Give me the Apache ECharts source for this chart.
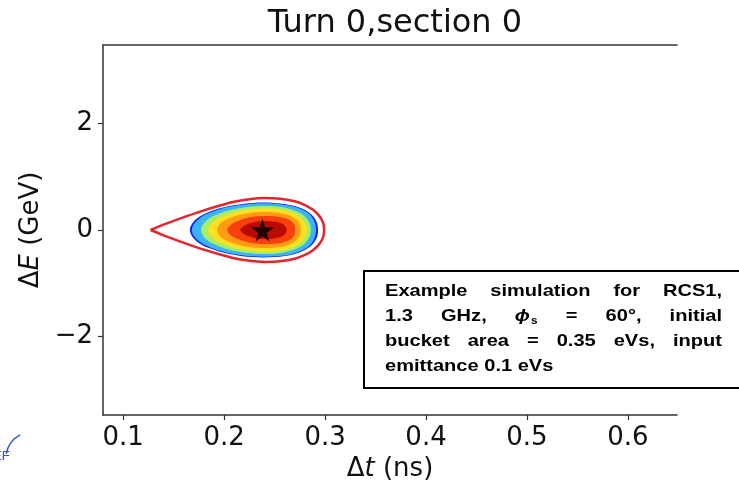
<!DOCTYPE html>
<html>
<head>
<meta charset="utf-8">
<script src="https://cdn.jsdelivr.net/npm/echarts@6/dist/echarts.min.js"></script>
<style>
  html, body { margin: 0; padding: 0; background: #fff; }
  #chart { width: 739px; height: 489px; }
</style>
</head>
<body>
<div id="chart"></div>
<script>
// ticks of the axes
const xTicks = [0.1, 0.2, 0.3, 0.4, 0.5, 0.6];
const yTicks = [-2, 0, 2];

// separatrix of the bucket (dt in ns, dE in GeV)
const separatrix = [
  [0.127, 0], [0.14, 0.1], [0.163, 0.26], [0.18, 0.37], [0.196, 0.46], [0.21, 0.53],
  [0.225, 0.58], [0.24, 0.60], [0.255, 0.59], [0.27, 0.54], [0.28, 0.47], [0.288, 0.38],
  [0.294, 0.27], [0.298, 0.14], [0.299, 0],
  [0.298, -0.14], [0.294, -0.27], [0.288, -0.38], [0.28, -0.47], [0.27, -0.54], [0.255, -0.59],
  [0.24, -0.60], [0.225, -0.58], [0.21, -0.53], [0.196, -0.46], [0.18, -0.37], [0.163, -0.26],
  [0.14, -0.1], [0.127, 0]
];

// density levels of the bunch, outer to inner
const levelBlue = [
  [0.166, 0], [0.172, 0.2], [0.185, 0.34], [0.205, 0.45], [0.228, 0.51], [0.25, 0.51],
  [0.27, 0.45], [0.284, 0.33], [0.291, 0.18], [0.293, 0],
  [0.291, -0.18], [0.284, -0.33], [0.27, -0.45], [0.25, -0.51], [0.228, -0.51],
  [0.205, -0.45], [0.185, -0.34], [0.172, -0.2]
];
const levelCyan = [
  [0.168, 0], [0.174, 0.195], [0.187, 0.333], [0.206, 0.44], [0.229, 0.495], [0.25, 0.495],
  [0.269, 0.44], [0.283, 0.32], [0.289, 0.175], [0.291, 0],
  [0.289, -0.175], [0.283, -0.32], [0.269, -0.44], [0.25, -0.495], [0.229, -0.495],
  [0.206, -0.44], [0.187, -0.333], [0.174, -0.195]
];
const levelGreen = [
  [0.177, 0], [0.182, 0.17], [0.194, 0.3], [0.211, 0.395], [0.231, 0.445], [0.25, 0.445],
  [0.266, 0.39], [0.278, 0.285], [0.284, 0.15], [0.286, 0],
  [0.284, -0.15], [0.278, -0.285], [0.266, -0.39], [0.25, -0.445], [0.231, -0.445],
  [0.211, -0.395], [0.194, -0.3], [0.182, -0.17]
];
const levelYellow = [
  [0.184, 0], [0.189, 0.155], [0.2, 0.27], [0.215, 0.355], [0.233, 0.4], [0.25, 0.4],
  [0.265, 0.345], [0.275, 0.25], [0.28, 0.135], [0.282, 0],
  [0.28, -0.135], [0.275, -0.25], [0.265, -0.345], [0.25, -0.4], [0.233, -0.4],
  [0.215, -0.355], [0.2, -0.27], [0.189, -0.155]
];
const levelOrange = [
  [0.193, 0], [0.197, 0.135], [0.207, 0.235], [0.22, 0.305], [0.236, 0.34], [0.251, 0.33],
  [0.263, 0.285], [0.271, 0.2], [0.275, 0.105], [0.276, 0],
  [0.275, -0.105], [0.271, -0.2], [0.263, -0.285], [0.251, -0.33], [0.236, -0.34],
  [0.22, -0.305], [0.207, -0.235], [0.197, -0.135]
];
const levelRed = [
  [0.203, 0], [0.207, 0.105], [0.216, 0.19], [0.227, 0.245], [0.24, 0.265], [0.252, 0.255],
  [0.262, 0.21], [0.268, 0.14], [0.27, 0.065], [0.27, 0],
  [0.27, -0.065], [0.268, -0.14], [0.262, -0.21], [0.252, -0.255], [0.24, -0.265],
  [0.227, -0.245], [0.216, -0.19], [0.207, -0.105]
];
const levelCore = [
  [0.216, 0], [0.22, 0.08], [0.228, 0.14], [0.238, 0.17], [0.249, 0.16], [0.257, 0.12],
  [0.261, 0.06], [0.262, 0],
  [0.261, -0.06], [0.257, -0.12], [0.249, -0.16], [0.238, -0.17], [0.228, -0.14], [0.22, -0.08]
];
const levels = [levelBlue, levelCyan, levelGreen, levelYellow, levelOrange, levelRed, levelCore];
const levelColors = ['#1428e6', '#3ab4f6', '#a6ee6a', '#ffe01e', '#ff9c14', '#f8400e', '#b80c00'];

// synchronous particle (star)
const synchronous = [[0.238, 0]];

// text of the note box
const noteLines = [
  'Example simulation for RCS1,',
  '1.3 GHz, ϕs = 60°, initial',
  'bucket area = 0.35 eVs, input',
  'emittance 0.1 eVs'
];

const FONT = '"DejaVu Sans", sans-serif';
const noteFont = 'bold 17px "Liberation Sans", Arial, sans-serif';
const phiFont = 'italic bold 17px "Liberation Sans", "DejaVu Sans", sans-serif';
const subFont = 'bold 10px "Liberation Sans", Arial, sans-serif';
const stretch = 1.18; // the note text is drawn a bit wide

const ctx = document.createElement('canvas').getContext('2d');
function measure(txt, font) {
  ctx.font = font;
  return ctx.measureText(txt).width * stretch;
}

function noteText(txt, font, x, y) {
  return {
    type: 'text', x: x, y: y, scaleX: stretch, z: 101,
    style: { text: txt, font: font, fill: '#000', verticalAlign: 'middle' }
  };
}

// build the justified note text
function buildNote() {
  const els = [{
    type: 'rect',
    shape: { x: 364, y: 271, width: 400, height: 117 },
    style: { fill: '#fff', stroke: '#000', lineWidth: 2 },
    z: 100
  }];
  const left = 385, right = 722, top = 291, step = 25;
  noteLines.forEach(function (line, li) {
    const words = line.split(' ');
    const widths = words.map(function (w) {
      return w === 'ϕs' ? measure('ϕ', phiFont) + measure('s', subFont) + 1 : measure(w, noteFont);
    });
    const total = widths.reduce(function (a, b) { return a + b; }, 0);
    const isLast = li === noteLines.length - 1;
    const gap = isLast ? measure(' ', noteFont) : (right - left - total) / (words.length - 1);
    const y = top + li * step;
    let x = left;
    words.forEach(function (w, wi) {
      if (w === 'ϕs') {
        els.push(noteText('ϕ', phiFont, x, y));
        els.push(noteText('s', subFont, x + measure('ϕ', phiFont) + 1, y + 5));
      } else {
        els.push(noteText(w, noteFont, x, y));
      }
      x += widths[wi] + gap;
    });
  });
  // bit of the logo cut by the left border of the slide
  els.push({
    type: 'arc',
    shape: { cx: 32, cy: 458, r: 26, startAngle: Math.PI * 1.05, endAngle: Math.PI * 1.35 },
    style: { stroke: '#2f55c8', lineWidth: 1.5, fill: null }, z: 100
  });
  els.push({
    type: 'text', x: -7, y: 456, z: 100,
    style: { text: 'EF', font: '13px "Liberation Sans", sans-serif', fill: '#2f55c8', verticalAlign: 'middle' }
  });
  return els;
}

function renderLevel(params, api) {
  const idx = api.value(2);
  const pts = levels[idx].map(function (p) { return api.coord(p); });
  return {
    type: 'polygon',
    shape: { points: pts, smooth: 0.35 },
    style: { fill: levelColors[idx] }
  };
}

const chart = echarts.init(document.getElementById('chart'), null, { renderer: 'canvas' });

const axisLine = { show: true, onZero: false, lineStyle: { color: '#333', width: 1.5 } };

chart.setOption({
  animation: false,
  backgroundColor: '#fff',
  title: {
    text: 'Turn 0,section 0',
    left: 390,
    textAlign: 'center',
    top: 3,
    textStyle: { fontFamily: FONT, fontSize: 32, fontWeight: 'normal', color: '#111' }
  },
  grid: { left: 103, right: 62, top: 45, bottom: 74 },
  xAxis: [{
    type: 'value',
    min: 0.08,
    max: 0.6486,
    position: 'bottom',
    name: '{a|Δ}{i|t}{a| (ns)}',
    nameLocation: 'middle',
    nameGap: 40,
    nameTextStyle: {
      rich: {
        a: { fontFamily: FONT, fontSize: 26, color: '#111' },
        i: { fontFamily: FONT, fontSize: 26, fontStyle: 'italic', color: '#111' }
      }
    },
    axisLine: axisLine,
    axisTick: { show: true, length: 5, customValues: xTicks, lineStyle: { color: '#333', width: 1.2 } },
    axisLabel: {
      customValues: xTicks,
      margin: 10,
      fontFamily: FONT,
      fontSize: 26,
      color: '#111',
      formatter: function (v) { return v.toFixed(1); }
    },
    splitLine: { show: false }
  }, {
    type: 'value',
    min: 0.08,
    max: 0.6486,
    position: 'top',
    axisLine: axisLine,
    axisTick: { show: false },
    axisLabel: { show: false },
    splitLine: { show: false }
  }],
  yAxis: {
    type: 'value',
    min: -3.48,
    max: 3.48,
    name: '{a|Δ}{i|E}{a| (GeV)}',
    nameLocation: 'middle',
    nameGap: 56,
    nameRotate: 90,
    nameTextStyle: {
      rich: {
        a: { fontFamily: FONT, fontSize: 26, color: '#111' },
        i: { fontFamily: FONT, fontSize: 26, fontStyle: 'italic', color: '#111' }
      }
    },
    axisLine: axisLine,
    axisTick: { show: true, length: 5, customValues: yTicks, lineStyle: { color: '#333', width: 1.2 } },
    axisLabel: {
      customValues: yTicks,
      margin: 10,
      fontFamily: FONT,
      fontSize: 26,
      color: '#111',
      formatter: function (v) { return v < 0 ? '\u2212' + Math.abs(v) : String(v); }
    },
    splitLine: { show: false }
  },
  graphic: buildNote(),
  series: [{
    type: 'custom',
    name: 'bunch',
    renderItem: renderLevel,
    encode: { x: 0, y: 1 },
    data: levels.map(function (l, i) { return [synchronous[0][0], synchronous[0][1], i]; }),
    z: 2
  }, {
    type: 'line',
    name: 'separatrix',
    data: separatrix,
    showSymbol: false,
    symbol: 'none',
    smooth: 0.25,
    lineStyle: { color: '#e4262c', width: 2.5 },
    z: 3
  }, {
    type: 'scatter',
    name: 'synchronous',
    data: synchronous,
    symbol: 'path://M50,0 L61,35 L98,35 L68,57 L79,91 L50,70 L21,91 L32,57 L2,35 L39,35 Z',
    symbolSize: 23,
    itemStyle: { color: '#000' },
    z: 4
  }]
});
</script>
</body>
</html>
